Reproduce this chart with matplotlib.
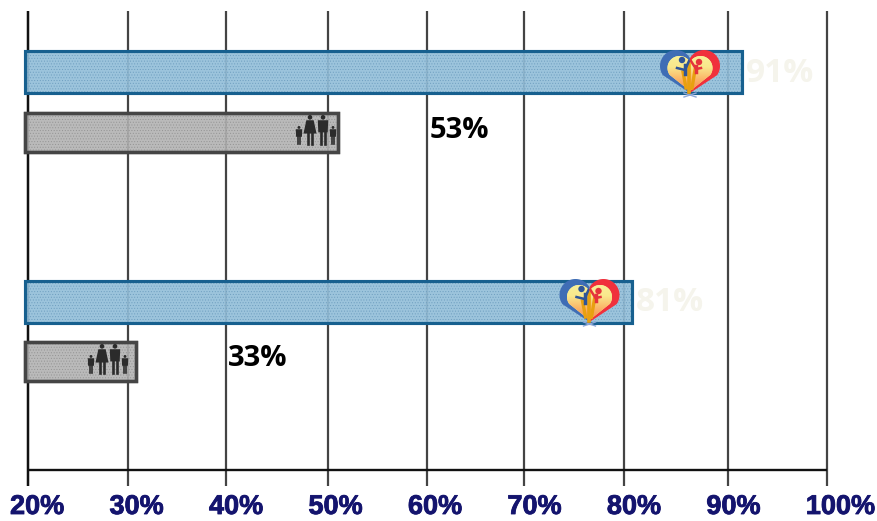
import matplotlib
matplotlib.use('Agg')
import matplotlib.pyplot as plt
import matplotlib.patheffects as pe
from matplotlib.colors import LinearSegmentedColormap
from matplotlib.patches import Circle, Polygon
import numpy as np

plt.rcParams['hatch.linewidth'] = 0.4

W, H = 877, 521

ticks = [20, 30, 40, 50, 60, 70, 80, 90, 100]
tick_labels = ['20%', '30%', '40%', '50%', '60%', '70%', '80%', '90%', '100%']
# the lines in the picture are not quite evenly spaced
grid_lines = [20, 30, 39.8, 50, 60, 69.7, 79.7, 90.1, 100]

# bar ends as drawn in the picture, the printed labels differ a bit
blue_values = [91.5, 80.5]
gray_values = [51.0, 30.8]
blue_labels = ['91%', '81%']
gray_labels = ['53%', '33%']

blue_rows = [72, 301.5]
gray_rows = [132, 361]
BAR_START = 19.7

GOLD = LinearSegmentedColormap.from_list('gold', ['#f9f09a', '#f9e88c', '#fbb568', '#f58a4a'])


def heart_half(cx, cy, r, a, b, side=1):
    # one lobe from the notch round to the tip, y grows downwards
    ang = np.radians(np.linspace(150, -35, 50))
    x = a + r * np.cos(ang)
    y = -r * np.sin(ang)
    x = np.r_[0, x, 0]
    y = np.r_[y[0], y, b]
    return np.c_[cx + side * x, cy + y]


def heart_points(cx, cy, r, a, b):
    return np.r_[heart_half(cx, cy, r, a, b), heart_half(cx, cy, r, a, b, -1)[::-1]]


def logo(ax, cx, cy):
    ax.add_patch(Polygon(heart_half(cx, cy, 16, 14, 27), fc='#f0303c', ec='none', zorder=6))
    ax.add_patch(Polygon(heart_half(cx, cy, 16, 14, 27, -1), fc='#3f6db5', ec='none', zorder=6))
    inner = Polygon(heart_points(cx, cy + 2, 12, 10.5, 23), fc='#f9f09a', ec='none', zorder=7)
    ax.add_patch(inner)
    grad = ax.imshow(np.linspace(0, 1, 50).reshape(-1, 1), cmap=GOLD, aspect='auto',
                     extent=(cx - 24, cx + 24, cy + 26, cy - 12), zorder=7)
    grad.set_clip_path(inner)
    # figures
    ax.plot([cx - 1, cx - 1], [cy - 2, cy + 26], color='#e8a010', lw=2.6, zorder=8)
    ax.plot([cx + 5, cx + 2], [cy + 4, cy + 22], color='#e8a010', lw=2.4, zorder=8)
    ax.plot([cx - 7, cx - 4], [cy + 6, cy + 22], color='#e8a010', lw=2.4, zorder=8)
    ax.add_patch(Circle((cx - 8, cy - 6), 3.2, fc='#2f5597', ec='none', zorder=9))
    ax.plot([cx - 13, cx - 5, cx - 1], [cy + 2, cy + 4, cy - 5], color='#2f5597', lw=1.8, zorder=9)
    ax.plot([cx - 5, cx - 5], [cy - 1, cy + 8], color='#2f5597', lw=2.5, zorder=9)
    ax.add_patch(Circle((cx + 9, cy - 4), 3.2, fc='#e5343c', ec='none', zorder=9))
    ax.plot([cx + 1, cx + 6, cx + 11], [cy - 5, cy + 3, cy + 2], color='#e5343c', lw=1.8, zorder=9)
    ax.plot([cx + 6, cx + 6], [cy, cy + 6], color='#e5343c', lw=2.5, zorder=9)
    ax.plot([cx - 6, cx + 6], [cy + 31, cy + 27], color='#8fa8d8', lw=1, zorder=5.5)
    ax.plot([cx - 6, cx + 6], [cy + 27, cy + 31], color='#8fa8d8', lw=1, zorder=5.5)
    ax.set_xlim(0, W)
    ax.set_ylim(H, 0)


def person(ax, cx, top, h, woman=False):
    c = '#2b2b2b'
    w = h * 0.18
    ax.add_patch(Circle((cx, top + h * 0.08), h * 0.08, fc=c, ec='none', zorder=6))
    if woman:
        body = [(cx - w * 0.7, top + h * 0.18), (cx + w * 0.7, top + h * 0.18),
                (cx + w * 1.25, top + h * 0.64), (cx - w * 1.25, top + h * 0.64)]
    else:
        body = [(cx - w, top + h * 0.18), (cx + w, top + h * 0.18),
                (cx + w * 0.9, top + h * 0.6), (cx - w * 0.9, top + h * 0.6)]
    ax.add_patch(Polygon(body, fc=c, ec='none', zorder=6))
    lw = h / 29 * 1.9
    ax.plot([cx - w * 0.4] * 2, [top + h * 0.55, top + h], color=c, lw=lw, zorder=6)
    ax.plot([cx + w * 0.4] * 2, [top + h * 0.55, top + h], color=c, lw=lw, zorder=6)


def family(ax, right, bottom):
    person(ax, right - 37, bottom - 18, 18)
    person(ax, right - 26, bottom - 29, 29, woman=True)
    person(ax, right - 13, bottom - 29, 29)
    person(ax, right - 3, bottom - 18, 18)


fig = plt.figure(figsize=(W / 100, H / 100), dpi=100, facecolor='white')
# axes spans px 28..827 wide, y in image pixels
ax = fig.add_axes([28 / W, 0, (827 - 28) / W, 1])
ax.set_xlim(20, 100)
ax.set_ylim(H, 0)
ax.patch.set_alpha(0)
for s in ax.spines.values():
    s.set_visible(False)
ax.set_xticks([])
ax.set_yticks([])

ax.vlines(grid_lines, 11, 486, color='#444444', lw=1.6, zorder=1, clip_on=False)
ax.vlines(grid_lines[0], 11, 486, color='#111111', lw=1.7, zorder=1, clip_on=False)
ax.hlines(470, 20, 100, color='#111111', lw=1.7, zorder=1)

for t, lab in zip(ticks, tick_labels):
    x = 18.2 + (t - 20) * 0.996
    ax.text(x, 507, lab, ha='left', va='center', fontsize=19.5, fontweight='bold',
            family='Liberation Sans', color='#14146e', clip_on=False,
            path_effects=[pe.withStroke(linewidth=0.6, foreground='#14146e')])

for v, y, lab in zip(blue_values, blue_rows, blue_labels):
    ax.barh(y, v - BAR_START, left=BAR_START, height=42, color=(0.58, 0.75, 0.85, 0.92),
            edgecolor='#17608f', linewidth=2.2, zorder=3, clip_on=False)
    ax.barh(y, v - BAR_START, left=BAR_START, height=42, color='none', hatch='......',
            edgecolor='#6f9fc0', linewidth=0, zorder=3.1, clip_on=False)
    ax.barh(y, v - BAR_START, left=BAR_START, height=42, color='none',
            edgecolor='#17608f', linewidth=2.2, zorder=3.2, clip_on=False)
    ax.text(v + 0.4, y + 1, lab, ha='left', va='center', fontsize=24, fontweight='bold',
            family='Open Sans', color='#f5f4ec', zorder=4)

for v, y, lab in zip(gray_values, gray_rows, gray_labels):
    ax.barh(y, v - BAR_START, left=BAR_START, height=39, color=(0.70, 0.70, 0.70, 0.9),
            edgecolor='#454545', linewidth=2.4, zorder=3, clip_on=False)
    ax.barh(y, v - BAR_START, left=BAR_START, height=39, color='none', hatch='......',
            edgecolor='#949494', linewidth=0, zorder=3.1, clip_on=False)
    ax.barh(y, v - BAR_START, left=BAR_START, height=39, color='none',
            edgecolor='#454545', linewidth=2.4, zorder=3.2, clip_on=False)
    ax.text(v + 9.2, y - 2, lab, ha='left', va='center', fontsize=21, fontweight='bold',
            family='Open Sans', color='black', zorder=4)

# overlay in plain pixel coordinates for the little pictures
deco = fig.add_axes([0, 0, 1, 1])
deco.axis('off')
deco.patch.set_alpha(0)
logo(deco, 690, 66)
logo(deco, 589.5, 295)
family(deco, 336, 144)
family(deco, 128, 373)

fig.savefig('out.png', dpi=100)
